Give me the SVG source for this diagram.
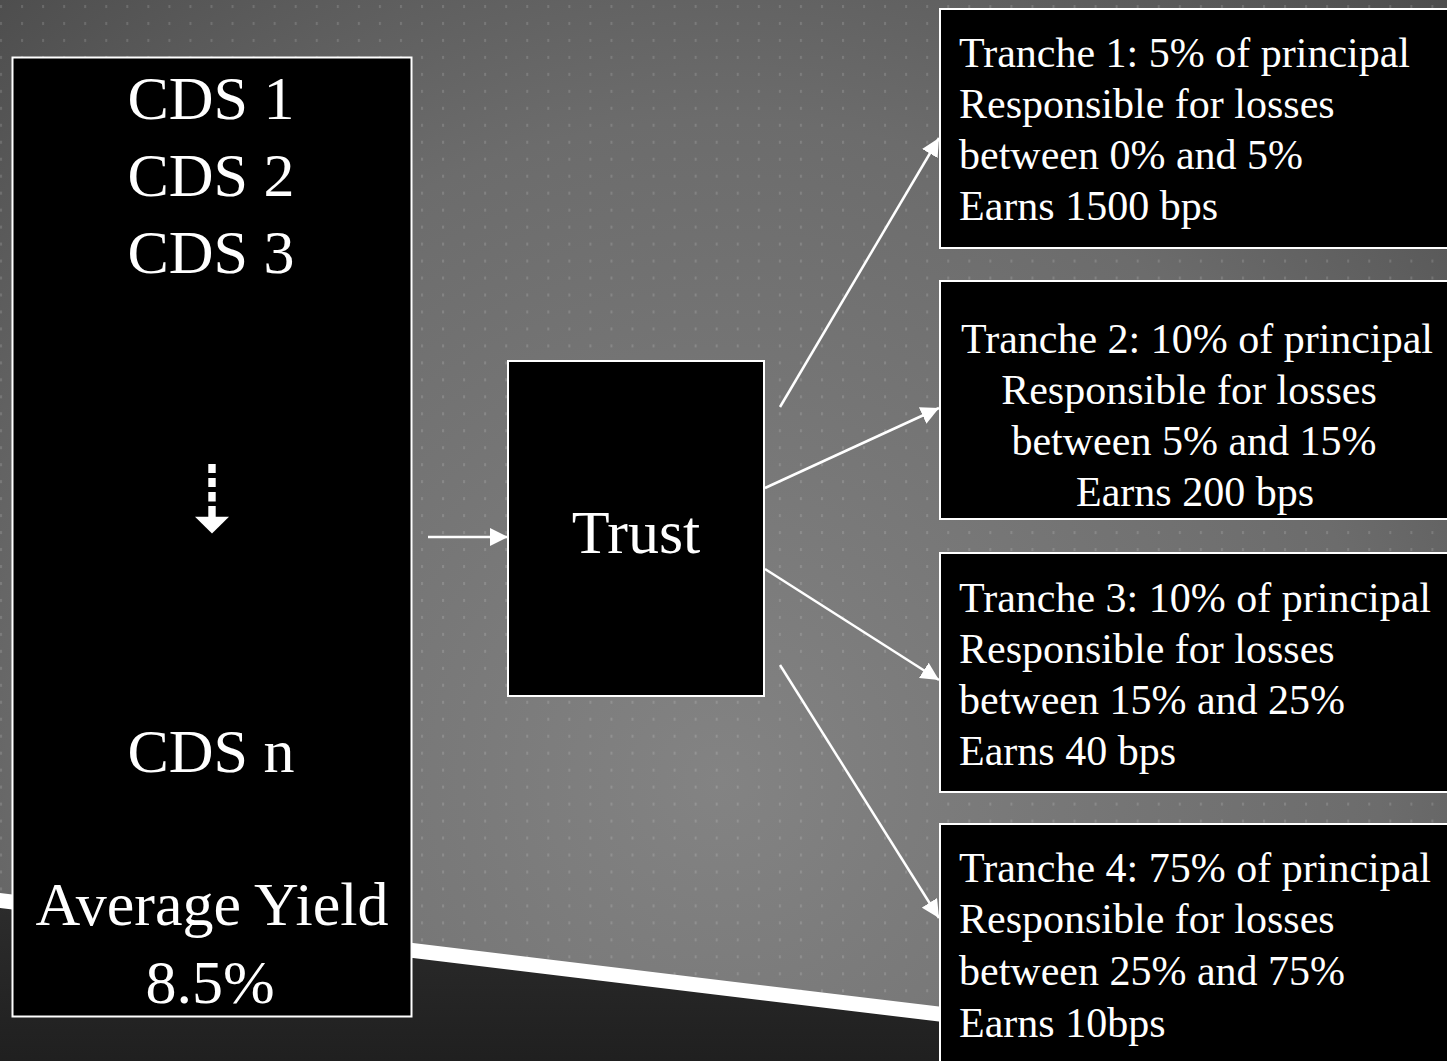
<svg xmlns="http://www.w3.org/2000/svg" width="1447" height="1061" viewBox="0 0 1447 1061">
  <defs>
    <radialGradient id="bgGrad" gradientUnits="userSpaceOnUse" cx="720" cy="780" r="1100">
      <stop offset="0" stop-color="#838383"/>
      <stop offset="0.6" stop-color="#6c6c6c"/>
      <stop offset="1" stop-color="#4b4b4b"/>
    </radialGradient>
    <linearGradient id="floorGrad" x1="0" y1="0" x2="0" y2="1">
      <stop offset="0" stop-color="#2c2c2c"/>
      <stop offset="1" stop-color="#1e1e1e"/>
    </linearGradient>
    <pattern id="dots" patternUnits="userSpaceOnUse" x="0" y="5" width="21.05" height="16.97">
      <rect x="0" y="0" width="2" height="3" fill="#ffffff" fill-opacity="0.14"/>
    </pattern>
    <marker id="head" markerUnits="userSpaceOnUse" markerWidth="18" markerHeight="18" viewBox="0 0 16 16" refX="16" refY="8" orient="auto">
      <path d="M0,0 L16,8 L0,16 Z" fill="#ffffff"/>
    </marker>
    <style>
      .box { fill: #000000; stroke: #ffffff; stroke-width: 2; }
      .big { font-family: "Liberation Serif", "Times New Roman", serif; font-size: 62px; fill: #ffffff; text-anchor: middle; }
      .tr { font-family: "Liberation Serif", "Times New Roman", serif; font-size: 42px; fill: #ffffff; }
      .mid { text-anchor: middle; }
      .link { stroke: #ffffff; stroke-width: 2.5; fill: none; marker-end: url(#head); }
    </style>
  </defs>

  <!-- backdrop: shaded wall with dot grid, floor below a white slanted band -->
  <g id="backdrop">
    <rect x="0" y="0" width="1447" height="1061" fill="url(#bgGrad)"/>
    <polygon points="0,0 1447,0 1447,1070 0,895" fill="url(#dots)"/>
    <polygon points="0,906 1447,1082 1447,1061 0,1061" fill="url(#floorGrad)"/>
    <polygon points="0,893 1447,1068 1447,1083 0,908" fill="#ffffff"/>
  </g>

  <!-- pool of credit default swaps -->
  <g id="cds-pool">
    <rect class="box" x="12.5" y="57.5" width="399" height="959"/>
    <text class="big" x="211" y="119">CDS 1</text>
    <text class="big" x="211" y="196">CDS 2</text>
    <text class="big" x="211" y="273">CDS 3</text>
    <g fill="#ffffff">
      <rect x="208.3" y="464" width="7.4" height="9"/>
      <rect x="208.3" y="478" width="7.4" height="9"/>
      <rect x="208.3" y="492" width="7.4" height="9.5"/>
      <rect x="208.3" y="506" width="7.4" height="11"/>
      <polygon points="195,516.7 229,516.7 212,533.5"/>
    </g>
    <text class="big" x="211" y="772">CDS n</text>
    <text class="big" x="212" y="925">Average Yield</text>
    <text class="big" x="210" y="1003">8.5%</text>
  </g>

  <!-- special purpose trust -->
  <g id="trust">
    <rect class="box" x="508" y="361" width="256" height="335"/>
    <text class="big" x="636" y="553">Trust</text>
  </g>

  <!-- tranches -->
  <g id="tranche-1">
    <rect class="box" x="940" y="9" width="514" height="239"/>
    <text class="tr" x="959" y="67">Tranche 1: 5% of principal</text>
    <text class="tr" x="959" y="118">Responsible for losses</text>
    <text class="tr" x="959" y="169">between 0% and 5%</text>
    <text class="tr" x="959" y="220">Earns 1500 bps</text>
  </g>

  <g id="tranche-2">
    <rect class="box" x="940" y="281" width="514" height="238"/>
    <text class="tr mid" x="1197" y="353">Tranche 2: 10% of principal</text>
    <text class="tr mid" x="1189" y="404">Responsible for losses</text>
    <text class="tr mid" x="1194" y="455">between 5% and 15%</text>
    <text class="tr mid" x="1195" y="506">Earns 200 bps</text>
  </g>

  <g id="tranche-3">
    <rect class="box" x="940" y="553" width="514" height="239"/>
    <text class="tr" x="959" y="612">Tranche 3: 10% of principal</text>
    <text class="tr" x="959" y="663">Responsible for losses</text>
    <text class="tr" x="959" y="714">between 15% and 25%</text>
    <text class="tr" x="959" y="765">Earns 40 bps</text>
  </g>

  <g id="tranche-4">
    <rect class="box" x="940" y="824" width="514" height="260"/>
    <text class="tr" x="959" y="882">Tranche 4: 75% of principal</text>
    <text class="tr" x="959" y="933">Responsible for losses</text>
    <text class="tr" x="959" y="985">between 25% and 75%</text>
    <text class="tr" x="959" y="1037">Earns 10bps</text>
  </g>

  <!-- connectors -->
  <g id="connectors">
    <line class="link" x1="428" y1="537" x2="508" y2="537"/>
    <line class="link" x1="780" y1="407" x2="939" y2="138"/>
    <line class="link" x1="765" y1="488" x2="939" y2="408"/>
    <line class="link" x1="765" y1="569" x2="939" y2="680"/>
    <line class="link" x1="780" y1="665" x2="939" y2="918"/>
  </g>
</svg>
